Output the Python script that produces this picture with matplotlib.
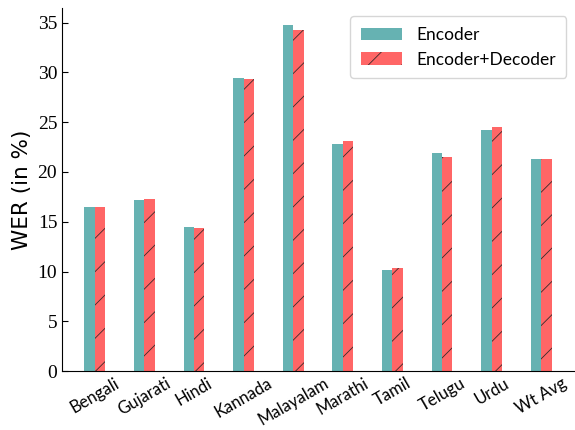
import numpy as np
import matplotlib.pyplot as plt

langs=['Bengali','Gujarati','Hindi','Kannada','Malayalam','Marathi','Tamil','Telugu','Urdu','Wt Avg']
enc=[16.5,17.2,14.5,29.4,34.8,22.8,10.2,21.9,24.2,21.3]
encdec=[16.5,17.3,14.4,29.3,34.3,23.1,10.4,21.5,24.5,21.3]

plt.rcParams['hatch.linewidth']=0.6
plt.rcParams['hatch.color']='#3a2a2a'

fig=plt.figure(figsize=(5.75,4.3),dpi=100)
ax=fig.add_axes([0.108,0.137,0.892,0.845])
x=np.arange(len(langs))
w=0.21
ax.bar(x-w/2,enc,w,color='#66b2b2',label='Encoder')
ax.bar(x+w/2,encdec,w,color='#ff6666',hatch='/',edgecolor='#3a2a2a',linewidth=0,label='Encoder+Decoder')
ax.set_xlim(-0.66,9.68)
ax.set_ylim(0,36.5)
ax.set_yticks(range(0,36,5))
ax.set_xticks(x)
ax.set_xticklabels(langs,rotation=30,fontsize=12,family='Lato')
for lab in ax.get_yticklabels():
    lab.set_family('Liberation Serif')
    lab.set_fontsize(14)
ax.tick_params(axis='y',direction='in',length=4)
ax.tick_params(axis='x',length=0,pad=3)
ax.spines['top'].set_visible(False)
ax.spines['right'].set_visible(False)
ax.set_ylabel('WER (in %)',fontsize=15.5,family='DejaVu Sans')
ax.legend(loc='upper right',prop={'family':'Lato','size':12.5},handlelength=2.4,borderpad=0.6)
fig.savefig('out.png',dpi=100)
